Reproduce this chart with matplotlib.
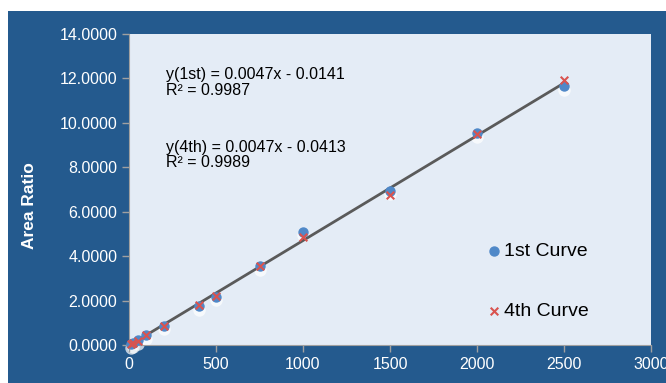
import matplotlib.pyplot as plt
import matplotlib.patches as mpatches
import numpy as np

# concentration levels and area ratios
conc = [10, 25, 50, 100, 200, 400, 500, 750, 1000, 1500, 2000, 2500]
first_curve = [0.04, 0.10, 0.22, 0.45, 0.87, 1.75, 2.18, 3.55, 5.10, 6.95, 9.55, 11.65]
fourth_curve = [0.03, 0.09, 0.20, 0.44, 0.85, 1.80, 2.20, 3.55, 4.88, 6.75, 9.50, 11.95]

eq_1st = "y(1st) = 0.0047x - 0.0141\nR² = 0.9987"
eq_4th = "y(4th) = 0.0047x - 0.0413\nR² = 0.9989"
x_ticks = [0, 500, 1000, 1500, 2000, 2500, 3000]
y_ticks = [0, 2, 4, 6, 8, 10, 12, 14]

BLUE_BG = "#245a8e"
PLOT_BG = "#e4ecf6"

plt.rcParams["font.family"] = ["Liberation Sans", "DejaVu Sans"]

fig = plt.figure(figsize=(6.66, 3.83), dpi=100)
fig.patch.set_facecolor("white")
fig.patches.append(mpatches.Rectangle((8 / 666, 0), 1, 1 - 11 / 383,
                                      transform=fig.transFigure,
                                      facecolor=BLUE_BG, edgecolor="none", zorder=-5))

ax = fig.add_axes([129 / 666, 1 - 345 / 383, 522 / 666, 311 / 383])
ax.set_facecolor(PLOT_BG)

# trend line (linear fit to the 1st curve)
slope, icept = np.polyfit(conc, first_curve, 1)
xs = np.array([0, 2500])
ax.plot(xs, slope * xs + icept, color="#5a5a5a", linewidth=2, zorder=3, clip_on=False)

# soft white glow under the markers
ax.scatter(conc, np.array(first_curve) - 0.17, s=80, color="white", alpha=0.7,
           linewidths=0, zorder=1, clip_on=False)
ax.scatter(conc, first_curve, s=42, color="#4f88c8", zorder=4, clip_on=False,
           label="1st Curve")
ax.scatter(conc, fourth_curve, s=30, marker="x", color="#d9534f", linewidths=1.5,
           zorder=5, clip_on=False, label="4th Curve")

ax.set_xlim(0, 3000)
ax.set_ylim(0, 14)
ax.set_xticks(x_ticks)
ax.set_yticks(y_ticks)
ax.set_yticklabels(["%.4f" % v for v in y_ticks])
ax.tick_params(colors="#a0a0a0", labelcolor="white", labelsize=11.5, length=5, width=1)
for side in ("top", "right"):
    ax.spines[side].set_visible(False)
for side in ("left", "bottom"):
    ax.spines[side].set_color("#a0a0a0")
fig.text(30 / 666, 1 - 206 / 383, "Area Ratio", color="white", fontsize=12.5,
         fontweight="bold", rotation=90, ha="center", va="center")

# multi-line text with va="baseline" sits on the last line's baseline
ax.text(0.071, 0.804, eq_1st, transform=ax.transAxes, fontsize=11.5, va="baseline",
        linespacing=1.05)
ax.text(0.071, 0.572, eq_4th, transform=ax.transAxes, fontsize=11.5, va="baseline",
        linespacing=1.05)

ax.legend(loc="center left", bbox_to_anchor=(0.652, 0.205), frameon=False,
          fontsize=14, labelspacing=2.15, handletextpad=0.2, handlelength=0.7)

fig.savefig("out.png", dpi=100, facecolor=fig.get_facecolor())
